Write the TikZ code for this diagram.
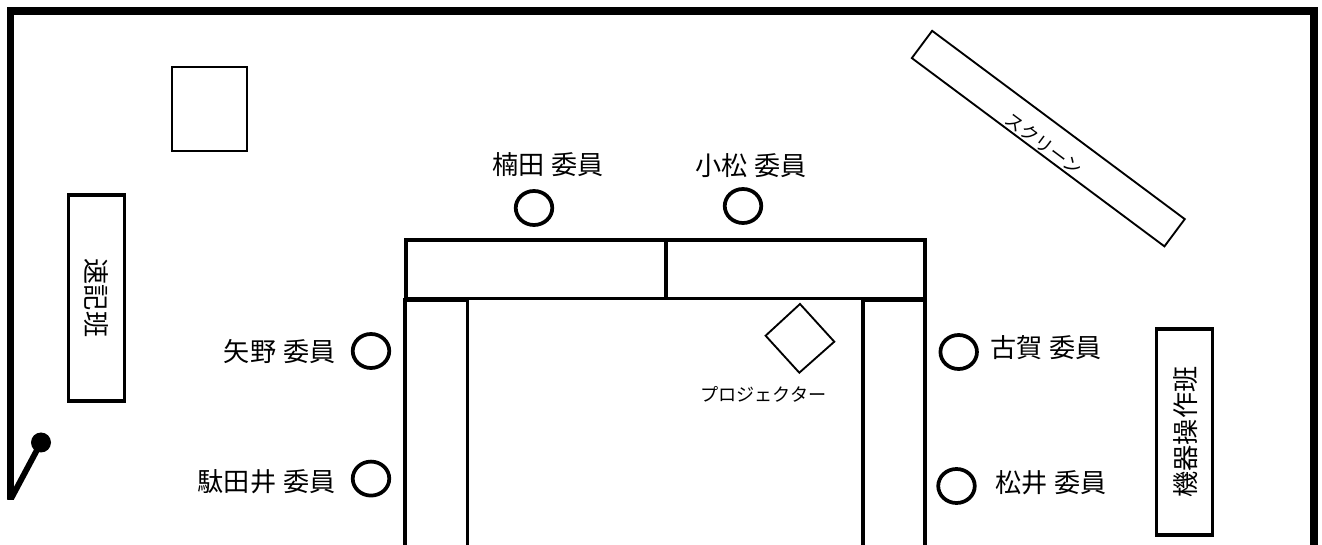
\documentclass[tikz,border=0pt]{standalone}
\usepackage{fontspec}
\usetikzlibrary{shapes.geometric}
\setmainfont{Noto Sans CJK JP}
\newcommand{\gapw}{\hspace{0.28em}}
\tikzset{
  wall/.style={line width=5.6pt,line cap=butt,line join=miter},
  deskbox/.style={draw,line width=2.6pt,line join=miter},
  thinbox/.style={draw,line width=1.4pt,line join=miter},
  groupbox/.style={draw,line width=2.8pt,line join=miter},
  seat/.style={draw,ellipse,line width=2.8pt,minimum width=27.4pt,minimum height=25.5pt,inner sep=0pt},
  nametext/.style={inner sep=0pt,font=\fontsize{19.6pt}{22pt}\selectfont},
  smalltext/.style={inner sep=0pt,font=\fontsize{13.6pt}{16pt}\selectfont},
}
\begin{document}
\begin{tikzpicture}[x=0.75pt,y=-0.75pt]
\useasboundingbox (0,0) rectangle (1322,545);
% room walls
\coordinate (wallA) at (10.7,499);
\coordinate (wallB) at (10.7,11);
\coordinate (wallC) at (1314,11);
\coordinate (wallD) at (1314,545);
\draw[wall] (wallA) -- (wallB) -- (wallC) -- (wallD);
% door
\node[circle,fill=black,minimum size=15pt,inner sep=0pt] (door) at (41,442.5) {};
\coordinate (hinge) at (5,510);
\begin{scope}
\clip (0,0) rectangle (60,499);
\draw[line width=4.4pt] (hinge) -- (door.center);
\end{scope}
% small table
\node[thinbox,minimum width=56pt,minimum height=62.4pt,inner sep=0pt] (tbl) at (209.7,109) {};
% stenographers
\node[groupbox,minimum width=42pt,minimum height=155pt,inner sep=0pt] (sokki) at (96.5,298) {};
\node[nametext,rotate=-90] (sokkit) at (96,298) {速記班};
% equipment
\node[groupbox,minimum width=42pt,minimum height=154.5pt,inner sep=0pt] (kiki) at (1184.5,431.7) {};
\node[nametext,rotate=90] (kikit) at (1185.5,432) {機器操作班};
% screen
\node[thinbox,rotate=-36.7,minimum width=236.3pt,minimum height=25.5pt,inner sep=0pt] (screen) at (1048.3,138.6) {};
\node[smalltext,rotate=-36.7] (screent) at (1044,144) {スクリーン};
% desks
\draw[deskbox] (406,240) rectangle (666,298.5);
\draw[deskbox] (666,240) rectangle (925,298.5);
\draw[deskbox] (405,545) -- (405,300) -- (467.5,300) -- (467.5,545);
\draw[deskbox] (863,545) -- (863,300) -- (925,300) -- (925,545);
% projector
\coordinate (pT) at (800,304);
\coordinate (pR) at (834.3,341.7);
\coordinate (pB) at (799.3,372.7);
\coordinate (pL) at (765.6,335.7);
\draw[line width=1.4pt,line join=miter] (pT) -- (pR) -- (pB) -- (pL) -- cycle;
\node[smalltext] (projt) at (763.4,394) {プロジェクター};
% seats
\node[seat] (s1) at (534,208) {};
\node[nametext] (n1) at (548,165) {楠田\gapw 委員};
\node[seat] (s2) at (743,206) {};
\node[nametext] (n2) at (751,166) {小松\gapw 委員};
\node[seat] (s3) at (371,351) {};
\node[nametext,anchor=east] (n3) at (336,352) {矢野\gapw 委員};
\node[seat] (s4) at (371,478.6) {};
\node[nametext,anchor=east] (n4) at (336,482) {駄田井\gapw 委員};
\node[seat] (s5) at (958.7,352) {};
\node[nametext] (n5) at (1046,348) {古賀\gapw 委員};
\node[seat] (s6) at (956.5,486) {};
\node[nametext] (n6) at (1051,483) {松井\gapw 委員};
\end{tikzpicture}
\end{document}
